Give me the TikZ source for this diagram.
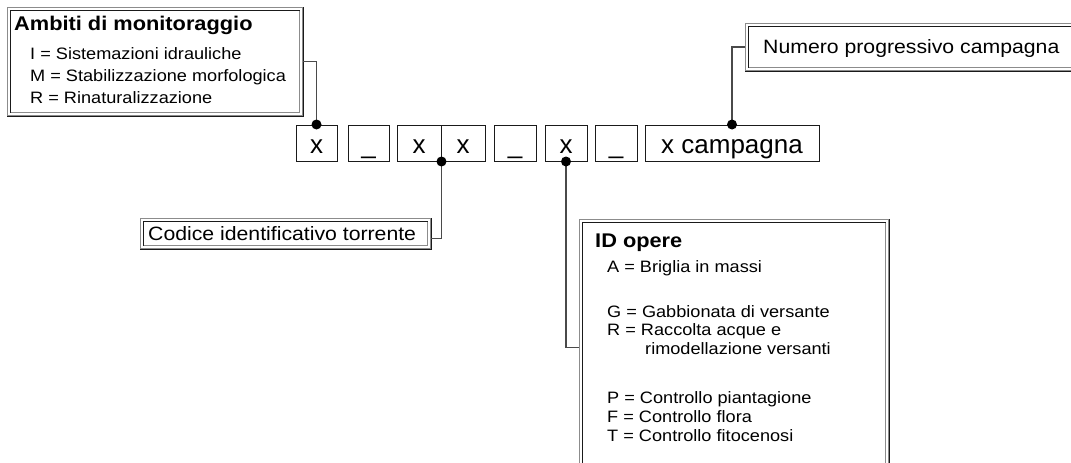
\documentclass[tikz,border=0pt]{standalone}
\usepackage{fontspec}
\setmainfont{Liberation Sans}
\newfontfamily\widefam{Liberation Sans}[FakeStretch=1.1]
\newfontfamily\plainfam{Liberation Sans}
\newcommand\rowfnt{\plainfam\fontsize{26}{30}\selectfont}
\newcommand\bodyfnt{\widefam\fontsize{16.5}{19}\selectfont}
\newcommand\titlefnt{\widefam\bfseries\fontsize{19.8}{23}\selectfont}
\newcommand\labfnt{\widefam\fontsize{19.3}{23}\selectfont}
\definecolor{lightline}{HTML}{8C8C8C}
\definecolor{darkline}{HTML}{1A1A1A}
\definecolor{connline}{HTML}{4A4A4A}
\tikzset{
  box/.style={rectangle, draw=lightline, line width=1pt, inner sep=0pt, anchor=north west},
  cell/.style={rectangle, draw=darkline, line width=1pt, inner sep=0pt, minimum height=36pt,
    font=\rowfnt, text height=22pt, text depth=2pt},
  lbl/.style={anchor=base west, inner sep=0pt},
  conn/.style={draw=connline, line width=1.2pt},
  dotfill/.style={fill=black},
}
\begin{document}
\begin{tikzpicture}[x=1pt,y=-1pt]
\useasboundingbox (0,0) rectangle (1071,463);
\clip (0,0) rectangle (1071,463);
% framed boxes
\node[box, minimum width=295pt, minimum height=108pt] (amb) at (7,7) {};
\node[box, minimum width=340pt, minimum height=47pt] (num) at (745,23) {};
\node[box, minimum width=290pt, minimum height=30pt] (cod) at (140,218) {};
\node[box, minimum width=309pt, minimum height=262pt] (ido) at (579,219) {};
\foreach \n in {amb,num,cod,ido}{
  \draw[darkline, line width=1pt] (\n.south west) -| (\n.north east);
  \draw[darkline, line width=1pt] ([shift={(3.5pt,3.5pt)}]\n.south west) |- ([shift={(-3.5pt,-3.5pt)}]\n.north east);
  \draw[lightline, line width=1pt] ([shift={(3.5pt,3.5pt)}]\n.south west) -| ([shift={(-3.5pt,-3.5pt)}]\n.north east);
}
% texts in boxes
\node[lbl, font=\titlefnt] (ambT) at (14,30) {Ambiti di monitoraggio};
\node[lbl, font=\bodyfnt] (ambI) at (30,59) {I = Sistemazioni idrauliche};
\node[lbl, font=\bodyfnt] (ambM) at (30,81) {M = Stabilizzazione morfologica};
\node[lbl, font=\bodyfnt] (ambR) at (30,103) {R = Rinaturalizzazione};
\node[lbl, font=\labfnt] (numT) at (763,53) {Numero progressivo campagna};
\node[lbl, font=\labfnt] (codT) at (148,240) {Codice identificativo torrente};
\node[lbl, font=\titlefnt] (idoT) at (595,247) {ID opere};
\node[lbl, font=\bodyfnt] (idoA) at (607,272) {A = Briglia in massi};
\node[lbl, font=\bodyfnt] (idoG) at (607,317) {G = Gabbionata di versante};
\node[lbl, font=\bodyfnt] (idoR) at (607,335) {R = Raccolta acque e};
\node[lbl, font=\bodyfnt] (idoR2) at (645,354) {rimodellazione versanti};
\node[lbl, font=\bodyfnt] (idoP) at (607,403) {P = Controllo piantagione};
\node[lbl, font=\bodyfnt] (idoF) at (607,422) {F = Controllo flora};
\node[lbl, font=\bodyfnt] (idoTT) at (607,441) {T = Controllo fitocenosi};
% code row
\node[cell, minimum width=41pt] (b1) at (316.5,143) {x};
\node[cell, minimum width=41pt] (b2) at (368.5,143) {\_};
\node[cell, minimum width=44pt] (b3a) at (419,143) {x};
\node[cell, minimum width=44pt] (b3b) at (463,143) {x};
\node[cell, minimum width=42pt] (b4) at (515,143) {\_};
\node[cell, minimum width=42pt] (b5) at (566,143) {x};
\node[cell, minimum width=42pt] (b6) at (616,143) {\_};
\node[cell, minimum width=174pt] (b7) at (732,143) {x campagna};
% connectors
\draw[conn] (amb.east) -| (b1.north);
\draw[conn] ([yshift=-5pt]cod.east) -| (b3a.south east);
\draw[conn] (b5.south) |- ([yshift=3pt]ido.west);
\draw[conn] (num.west) -| (b7.north);
\fill[dotfill] (b1.north) circle (5pt);
\fill[dotfill] (b3a.south east) circle (5pt);
\fill[dotfill] (b5.south) circle (5pt);
\fill[dotfill] (b7.north) circle (5pt);
\end{tikzpicture}
\end{document}
